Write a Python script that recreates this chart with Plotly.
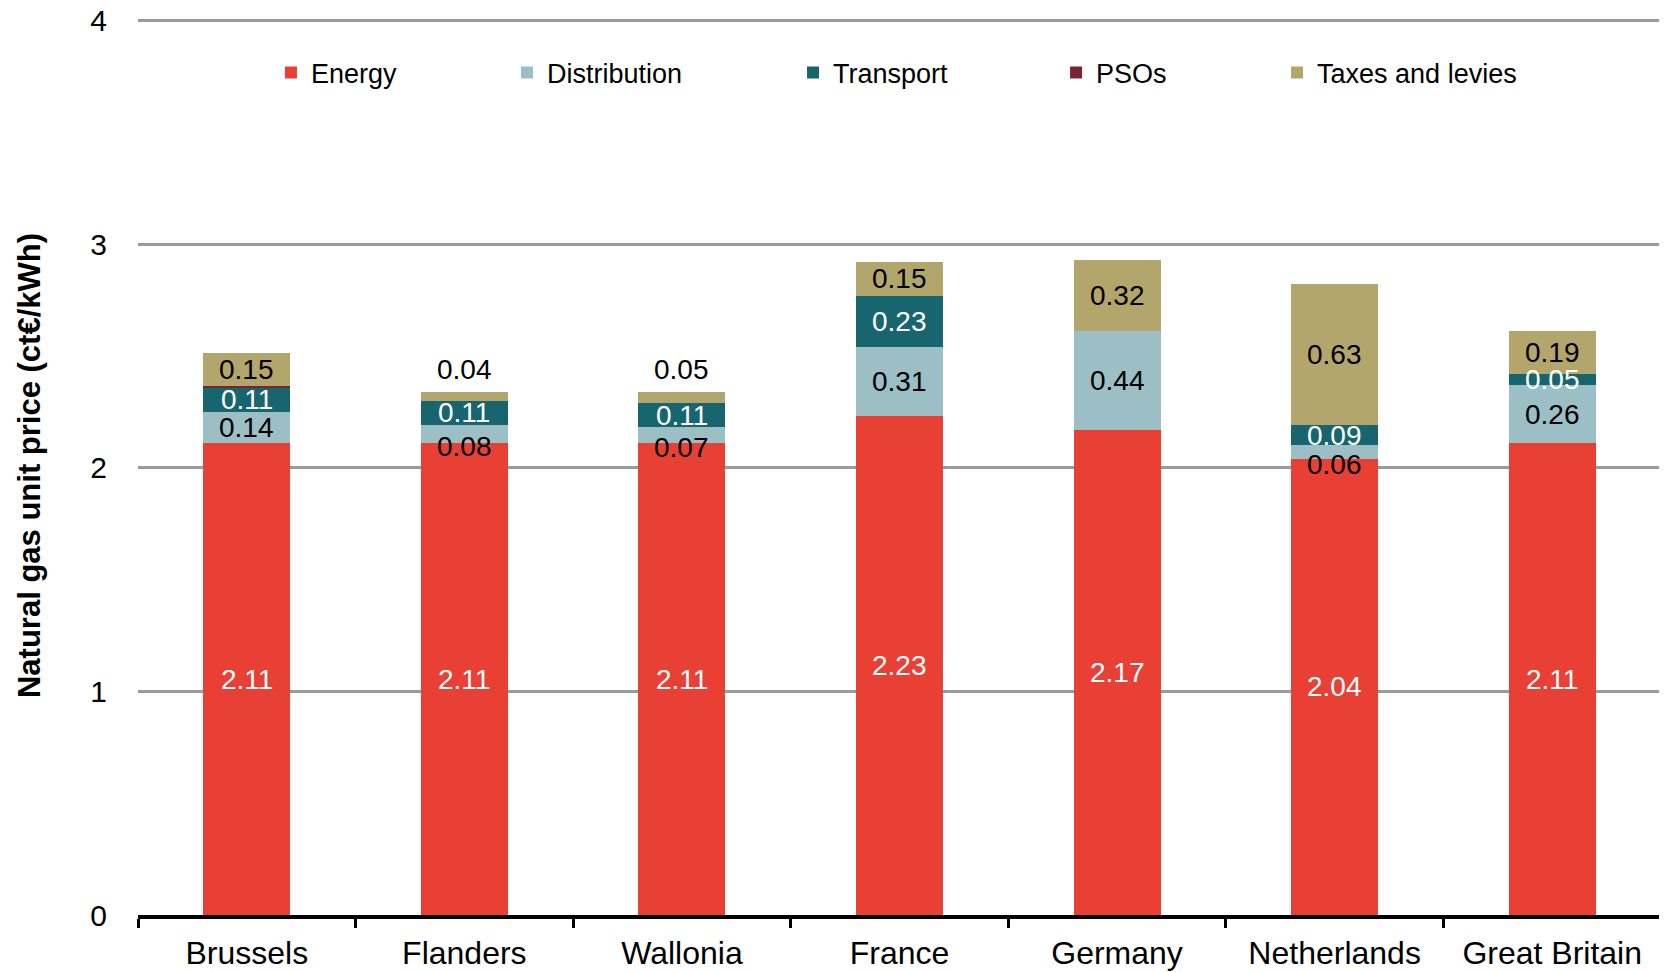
#!/usr/bin/env python3
"""Natural gas unit price breakdown per region, stacked bars."""

import plotly.graph_objects as go

REGIONS = ["Brussels", "Flanders", "Wallonia", "France", "Germany", "Netherlands", "Great Britain"]
ENERGY = [2.11, 2.11, 2.11, 2.23, 2.17, 2.04, 2.11]
DISTRIBUTION = [0.14, 0.08, 0.07, 0.31, 0.44, 0.06, 0.26]
TRANSPORT = [0.11, 0.11, 0.11, 0.23, 0.00, 0.09, 0.05]
PSOS = [0.005, 0.0, 0.0, 0.0, 0.0, 0.0, 0.0]
TAXES = [0.15, 0.04, 0.05, 0.15, 0.32, 0.63, 0.19]

Y_TICKS = [0, 1, 2, 3, 4]

FONT = "Arial, Liberation Sans, sans-serif"

# name, values, bar colour, label colour, legend x
COMPONENTS = [
    ("Energy", ENERGY, "#E84035", "white", 0.0873),
    ("Distribution", DISTRIBUTION, "#9BBFC4", "black", 0.2423),
    ("Transport", TRANSPORT, "#17666F", "white", 0.4301),
    ("PSOs", PSOS, "#7B2431", None, 0.6028),
    ("Taxes and levies", TAXES, "#B3A66C", "black", 0.7479),
]


def main() -> int:
    fig = go.Figure()
    bottoms = [0.0] * len(REGIONS)
    totals = [sum(v) for v in zip(ENERGY, DISTRIBUTION, TRANSPORT, PSOS, TAXES)]
    annotations = []

    for i, (name, values, color, label_color, legend_x) in enumerate(COMPONENTS):
        legend_id = "legend" if i == 0 else f"legend{i + 1}"
        fig.add_trace(
            go.Bar(
                x=REGIONS,
                y=values,
                name=name,
                marker=dict(color=color, line=dict(width=0)),
                legend=legend_id,
                hovertemplate="%{x}<br>" + name + "=%{y:.2f}<extra></extra>",
            )
        )
        fig.update_layout(
            {
                legend_id: dict(
                    x=legend_x,
                    y=0.9366,
                    xanchor="left",
                    yanchor="middle",
                    orientation="h",
                    font=dict(family=FONT, size=27, color="black"),
                    bgcolor="rgba(0,0,0,0)",
                )
            }
        )

        if label_color is not None:
            for j, (region, val) in enumerate(zip(REGIONS, values)):
                if val <= 0:
                    continue
                text = f"{val:.2f}"
                if name == "Taxes and levies" and val < 0.1:
                    annotations.append(
                        dict(x=region, y=totals[j], text=text, showarrow=False,
                             yanchor="middle", yshift=22,
                             font=dict(family=FONT, size=28, color=label_color))
                    )
                else:
                    shift = -12 if (name == "Distribution" and val < 0.1) else 0
                    annotations.append(
                        dict(x=region, y=bottoms[j] + val / 2, text=text, showarrow=False,
                             yanchor="middle", yshift=shift,
                             font=dict(family=FONT, size=28, color=label_color))
                    )
        bottoms = [b + v for b, v in zip(bottoms, values)]

    # the page body adds an 8px margin, so the figure is 8px smaller than the window
    fig.update_layout(
        width=1659,
        height=964,
        barmode="stack",
        bargap=0.6,
        paper_bgcolor="white",
        plot_bgcolor="white",
        margin=dict(l=130, r=6, t=8, b=57, autoexpand=False),
        font=dict(family=FONT, size=26, color="black"),
        annotations=annotations,
        showlegend=True,
    )
    fig.update_xaxes(
        automargin=False,
        showline=True,
        linecolor="black",
        linewidth=3.5,
        ticks="outside",
        tickson="boundaries",
        ticklen=9,
        tickwidth=3,
        tickcolor="black",
        showgrid=False,
        tickfont=dict(family=FONT, size=32, color="black"),
        ticklabelstandoff=7,
    )
    fig.update_yaxes(
        automargin=False,
        range=[0, 4.02],
        tickvals=Y_TICKS,
        showgrid=True,
        gridcolor="#9A9A9A",
        gridwidth=3,
        zeroline=False,
        showline=False,
        tickfont=dict(family=FONT, size=30, color="black"),
        ticklabelstandoff=30,
        ticklabeloverflow="allow",
        title=dict(
            text="<b>Natural gas unit price (ct€/kWh)</b>",
            font=dict(family=FONT, size=31, color="black"),
            standoff=40,
        ),
    )

    fig.write_html("out.html")
    return 0


if __name__ == "__main__":
    raise SystemExit(main())
